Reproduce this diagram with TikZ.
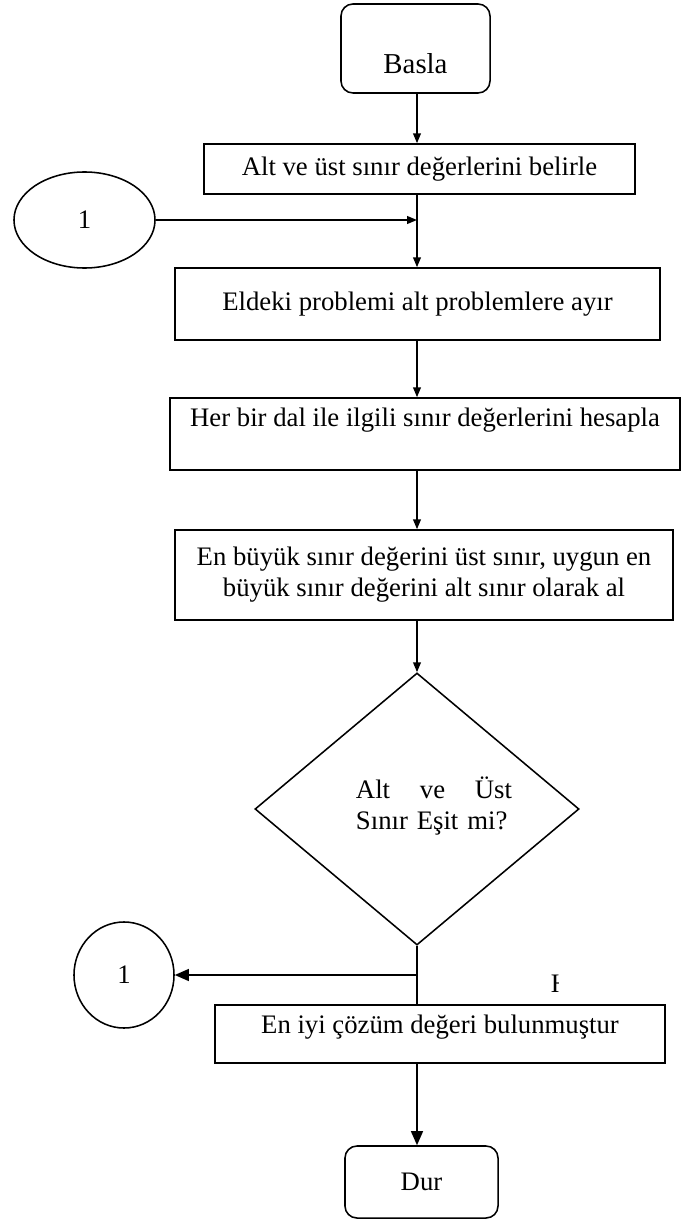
\documentclass[tikz,border=0pt]{standalone}
\usepackage{fontspec}
\setmainfont{Liberation Serif}
\usetikzlibrary{shapes.geometric, arrows.meta, positioning}

\begin{document}
\begin{tikzpicture}[
    x=0.025cm, y=-0.025cm,
    line width=1.1pt,
    every node/.style={font=\fontsize{19}{22}\selectfont},
    box/.style={rectangle, draw, align=center, inner sep=0pt},
    endbox/.style={rectangle, draw, rounded corners=0.3cm, inner sep=0pt},
    conn/.style={ellipse, draw, inner sep=0pt},
    decision/.style={diamond, draw, inner sep=0pt, minimum width=8.1cm, minimum height=6.8cm},
    arr/.style={-{Triangle[length=7pt, width=5.5pt]}},
    bigarr/.style={-{Triangle[length=10pt, width=8.5pt]}}
]
\useasboundingbox (0,0) rectangle (699,1220);

% Start and first steps
\node[endbox, minimum width=3.725cm, minimum height=2.225cm, text height=36pt, font=\fontsize{20.5}{24}\selectfont] (basla) at (415.5,48.5) {Basla};
\node[box, minimum width=10.775cm, minimum height=1.25cm] (bounds) at (419.5,169) {Alt ve üst sınır değerlerini belirle};
\node[conn, minimum width=3.525cm, minimum height=2.4cm] (loopin) at (84.5,220) {1};
\node[box, minimum width=12.125cm, minimum height=1.8cm] (split) at (417.5,304) {Eldeki problemi alt problemlere ayır};
\node[box, minimum width=12.75cm, minimum height=1.8cm, text depth=24pt] (calc) at (425,434) {Her bir dal ile ilgili sınır değerlerini hesapla};
\node[box, minimum width=12.45cm, minimum height=2.25cm] (take) at (424,575) {En büyük sınır değerini üst sınır, uygun en\\büyük sınır değerini alt sınır olarak al};

% Decision
\node[decision] (equal) at (417,809) {};
\node[text width=3.9cm, align=left, inner sep=0pt] (equaltext) at (434,806) {Alt\hfill ve\hfill Üst\\\mbox{Sınır Eşit mi?}};
\node[conn, minimum width=2.5cm, minimum height=2.65cm] (loopout) at (124,975) {1};
\begin{scope}
  \clip (540,955) rectangle (558,1000);
  \node[anchor=base west, inner sep=0pt] (no) at (550,992) {H};
\end{scope}

% End
\node[box, minimum width=11.25cm, minimum height=1.45cm, text depth=14pt] (found) at (440,1034) {En iyi çözüm değeri bulunmuştur};
\node[endbox, minimum width=3.825cm, minimum height=1.8cm] (dur) at (421.5,1182) {Dur};

% Arrows
\coordinate (join) at (loopin -| equal);
\coordinate (fork) at (equal |- loopout);
\draw[arr] (basla.south -| equal) -- (bounds.north -| equal);
\draw[arr] (bounds.south -| equal) -- (split.north -| equal);
\draw[arr] (loopin) -- (join);
\draw[arr] (split.south -| equal) -- (calc.north -| equal);
\draw[arr] (calc.south -| equal) -- (take.north -| equal);
\draw[arr] (take.south -| equal) -- (equal);
\draw (equal) -- (found.north -| equal);
\draw[bigarr] (fork) -- (loopout);
\draw[bigarr] (found.south -| equal) -- (dur.north -| equal);

\end{tikzpicture}
\end{document}
